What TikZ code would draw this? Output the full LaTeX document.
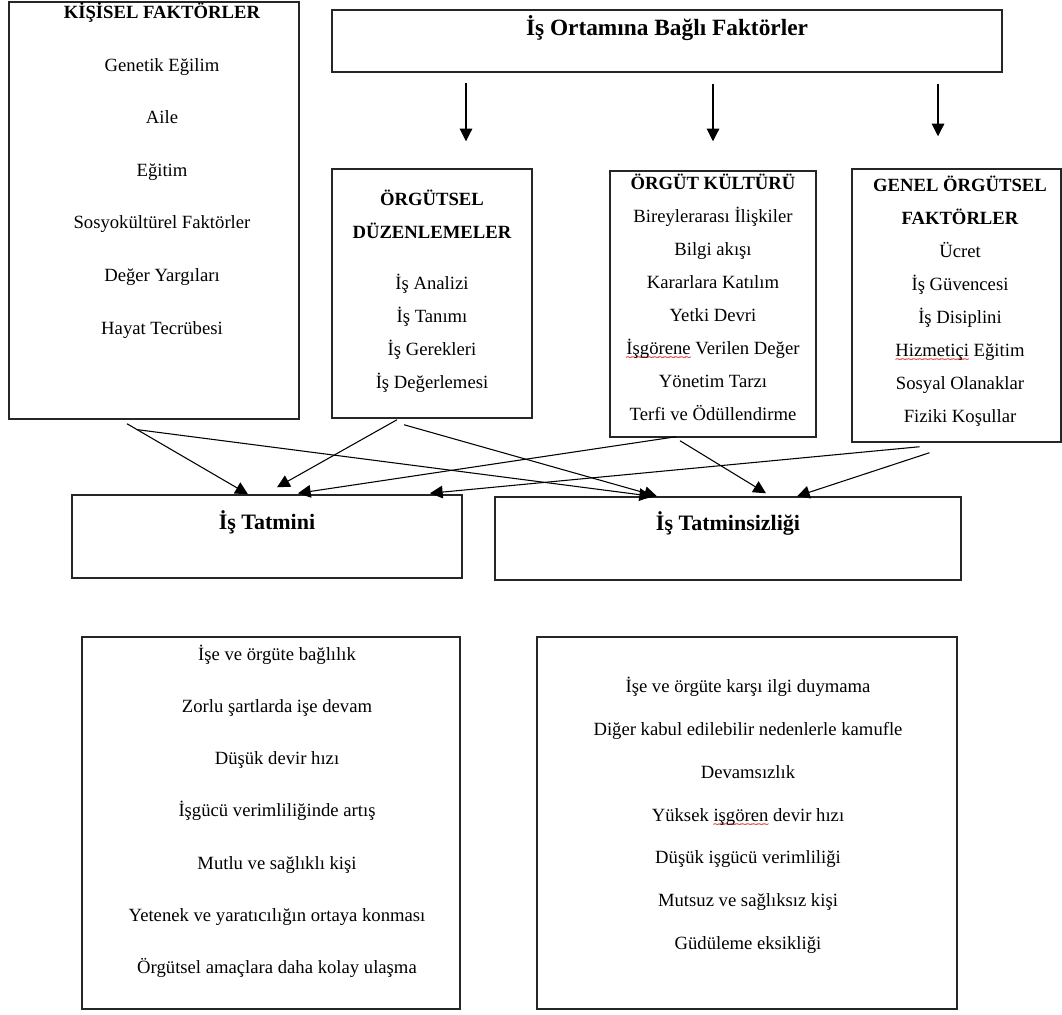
\documentclass[tikz,border=0pt]{standalone}
\usepackage{fontspec}
\setmainfont{Liberation Serif}
\newfontfamily\wavefont{DejaVu Sans}
\usetikzlibrary{arrows.meta,positioning,fit}

% kırmızı dalgalı alt çizgi
\newcommand{\spellwave}[1]{\setbox0\hbox{#1}\rlap{\color{red!85!black}\lower4.6pt\hbox to\wd0{\xleaders\hbox to 4pt{\hss\wavefont\fontsize{7}{7}\selectfont ∼\hss}\hfil}}\box0\relax}

\begin{document}
\begin{tikzpicture}
    [x=0.75pt, y=-0.75pt,
    factor_box/.style={draw=black!85, line width=1.1pt, inner sep=0pt},
    item_text/.style={inner sep=0pt, align=center, anchor=base, font=\fontsize{14}{24.75}\selectfont},
    wide_text/.style={item_text, font=\fontsize{14}{39.4}\selectfont},
    head_text/.style={inner sep=0pt, anchor=base, font=\fontsize{16.5}{18}\selectfont\bfseries},
    flow_arrow/.style={-{Triangle[length=9.5pt, width=9.5pt]}, line width=0.8pt}]
    \useasboundingbox (0, 0) rectangle (1062, 1014);
    % 绘制方框
    \node[factor_box, fit={(9, 2) (299, 419)}] (kisisel) {};
    \node[factor_box, fit={(332, 10) (1002, 72)}] (ortam) {};
    \node[factor_box, fit={(332, 169) (532, 418)}] (duzen) {};
    \node[factor_box, fit={(610, 171) (816, 437)}] (kultur) {};
    \node[factor_box, fit={(852, 169) (1061, 442)}] (genel) {};
    \node[factor_box, fit={(72, 495) (462, 578)}] (tatmin) {};
    \node[factor_box, fit={(495, 497) (961, 580)}] (tatminsiz) {};
    \node[factor_box, fit={(82, 637) (460, 1009)}] (olumlu) {};
    \node[factor_box, fit={(537, 637) (957, 1009)}] (olumsuz) {};
    % 绘制文字 (基线取最后一行)
    \node[wide_text] (kisisel_text) at (162, 334)
        {\textbf{KİŞİSEL FAKTÖRLER}\\ Genetik Eğilim\\ Aile\\ Eğitim\\
         Sosyokültürel Faktörler\\ Değer Yargıları\\ Hayat Tecrübesi};
    \node[head_text, font=\fontsize{17.5}{18}\selectfont\bfseries] (ortam_text) at (667, 35)
        {İş Ortamına Bağlı Faktörler};
    \node[item_text] (duzen_text) at (432, 388)
        {\textbf{ÖRGÜTSEL}\\ \textbf{DÜZENLEMELER}\\[13.5pt] İş Analizi\\ İş Tanımı\\
         İş Gerekleri\\ İş Değerlemesi};
    \node[item_text] (kultur_text) at (713, 420)
        {\textbf{ÖRGÜT KÜLTÜRÜ}\\ Bireylerarası İlişkiler\\ Bilgi akışı\\ Kararlara Katılım\\
         Yetki Devri\\ \spellwave{İşgörene} Verilen Değer\\ Yönetim Tarzı\\ Terfi ve Ödüllendirme};
    \node[item_text] (genel_text) at (960, 422)
        {\textbf{GENEL ÖRGÜTSEL}\\ \textbf{FAKTÖRLER}\\ Ücret\\ İş Güvencesi\\ İş Disiplini\\
         \spellwave{Hizmetiçi} Eğitim\\ Sosyal Olanaklar\\ Fiziki Koşullar};
    \node[head_text] (tatmin_text) at (267, 529) {İş Tatmini};
    \node[head_text] (tatminsiz_text) at (728, 530) {İş Tatminsizliği};
    \node[item_text, font=\fontsize{14}{39.15}\selectfont] (olumlu_text) at (277, 973.5)
        {İşe ve örgüte bağlılık\\ Zorlu şartlarda işe devam\\ Düşük devir hızı\\
         İşgücü verimliliğinde artış\\ Mutlu ve sağlıklı kişi\\
         Yetenek ve yaratıcılığın ortaya konması\\ Örgütsel amaçlara daha kolay ulaşma};
    \node[item_text, font=\fontsize{14}{32.1}\selectfont] (olumsuz_text) at (748, 949.5)
        {İşe ve örgüte karşı ilgi duymama\\ Diğer kabul edilebilir nedenlerle kamufle\\
         Devamsızlık\\ Yüksek \spellwave{işgören} devir hızı\\ Düşük işgücü verimliliği\\
         Mutsuz ve sağlıksız kişi\\ Güdüleme eksikliği};
    % 绘制上方箭头
    \draw[flow_arrow] ([shift={(-201, 10)}]ortam.south) -- ([shift={(34, -27)}]duzen.north);
    \draw[flow_arrow] ([shift={(46, 11)}]ortam.south) -- ([shift={(0, -29)}]kultur.north);
    \draw[flow_arrow] ([shift={(271, 11)}]ortam.south) -- ([shift={(-18.5, -32)}]genel.north);
    % 绘制交叉箭头
    \draw[flow_arrow] ([shift={(-27, 4)}]kisisel.south) -- ([shift={(-19, 0)}]tatmin.north);
    \draw[flow_arrow] ([shift={(-16, 10)}]kisisel.south) -- ([shift={(-76, 0)}]tatminsiz.north);
    \draw[flow_arrow] ([shift={(-35, 1)}]duzen.south) -- ([shift={(10, -7)}]tatmin.north);
    \draw[flow_arrow] ([shift={(-28, 6)}]duzen.south) -- ([shift={(-71, 0)}]tatminsiz.north);
    \draw[flow_arrow] ([shift={(-37, -1)}]kultur.south) -- ([shift={(31, -1)}]tatmin.north);
    \draw[flow_arrow] ([shift={(-33, 3)}]kultur.south) -- ([shift={(38, -3)}]tatminsiz.north);
    \draw[flow_arrow] ([shift={(-37, 4)}]genel.south) -- ([shift={(163, -1)}]tatmin.north);
    \draw[flow_arrow] ([shift={(-27, 10)}]genel.south) -- ([shift={(69, 0)}]tatminsiz.north);
\end{tikzpicture}
\end{document}
